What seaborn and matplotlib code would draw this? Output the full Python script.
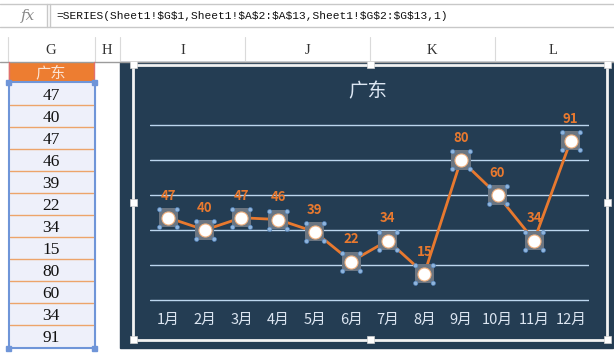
import matplotlib
matplotlib.use('Agg')
import matplotlib.pyplot as plt
import seaborn as sns
import pandas as pd
import numpy as np
from matplotlib.patches import Rectangle
from matplotlib.path import Path

# data
months = ['1月', '2月', '3月', '4月', '5月', '6月', '7月', '8月', '9月', '10月', '11月', '12月']
values = [47, 40, 47, 46, 39, 22, 34, 15, 80, 60, 34, 91]
series_name = '广东'
formula = '=SERIES(Sheet1!$G$1,Sheet1!$A$2:$A$13,Sheet1!$G$2:$G$13,1)'
col_letters = ['G', 'H', 'I', 'J', 'K', 'L']

df = pd.DataFrame({'pos': np.arange(len(months)), 'month': months, 'value': values})

sns.set_style('white')
plt.rcParams['font.family'] = ['Noto Sans CJK SC', 'DejaVu Sans']

ORANGE = '#e8792f'
DARK = '#243d53'
LIGHT = '#dce6f2'
GRID = '#bcd6ee'

fig = plt.figure(figsize=(6.14, 3.55), dpi=100)

# sheet layer in pixel coordinates
sh = fig.add_axes([0, 0, 1, 1])
sh.set_xlim(0, 614)
sh.set_ylim(355, 0)
sh.axis('off')
sh.set_zorder(0)

# formula bar
sh.plot([0, 614], [4, 4], color='#c8c8c8', lw=1)
sh.plot([0, 614], [27, 27], color='#c8c8c8', lw=1)
sh.plot([47, 47], [4, 27], color='#c8c8c8', lw=1)
sh.plot([50, 50], [4, 27], color='#c8c8c8', lw=1)
sh.text(28, 16, 'fx', family='DejaVu Serif', style='italic', fontsize=11,
        color='#8a8a8a', ha='center', va='center')
sh.text(56, 16, formula, family='Liberation Mono', fontsize=8.1, parse_math=False,
        color='#111111', ha='left', va='center')

# column header row
sh.add_patch(Rectangle((0, 37), 614, 25, color='#ffffff', zorder=0))
for x in [8, 95, 120, 245, 370, 495]:
    sh.plot([x, x], [37, 62], color='#dadada', lw=0.8)
sh.plot([0, 614], [62, 62], color='#9c9c9c', lw=1)
for letter, cx in zip(col_letters, [51, 107, 183, 308, 432, 553]):
    sh.text(cx, 50, letter, family='Liberation Serif', fontsize=10.5,
            color='#333333', ha='center', va='center')

# column G cells
sh.add_patch(Rectangle((9, 63), 84, 19, color='#ed7d31', zorder=1))
sh.text(51, 72.5, series_name, fontsize=11, color='#fbe3d3',
        ha='center', va='center')
sh.add_patch(Rectangle((9, 82), 86, 266, color='#eef0fa', zorder=1))
for i, v in enumerate(values):
    top = 83 + 22 * i
    sh.text(51, top + 12.5, str(v), family='Liberation Serif', fontsize=12.5,
            color='#111111', ha='center', va='center', zorder=3)
    if i < len(values) - 1:
        sh.plot([10, 93], [top + 22, top + 22], color='#eda46a', lw=1, zorder=2)
sh.add_patch(Rectangle((8.5, 82), 86, 266, fill=False, ec='#6f95d8', lw=1.5, zorder=3))
for px, py in [(8.5, 82), (94.5, 82), (8.5, 348), (94.5, 348)]:
    sh.add_patch(Rectangle((px - 2.5, py - 2.5), 5, 5, color='#6f95d8', zorder=4))
sh.plot([8.5, 8.5], [62, 82], color='#e07070', lw=1, zorder=3)
sh.plot([93.5, 93.5], [62, 82], color='#e07070', lw=1, zorder=3)

# chart background and selection frame
sh.add_patch(Rectangle((120, 62), 493, 286, color=DARK, zorder=1))
sh.add_patch(Rectangle((133, 64.5), 474, 275, fill=False, ec='#f2f2f2', lw=2, zorder=2))
for hx, hy in [(133, 64.5), (370, 64.5), (607, 64.5), (133, 202), (607, 202),
               (133, 339.5), (370, 339.5), (607, 339.5)]:
    sh.add_patch(Rectangle((hx - 3.5, hy - 3.5), 7, 7, fc='#ffffff', ec='#d0d0d0',
                           lw=0.5, zorder=3))
sh.text(368, 92, series_name, fontsize=14, color=LIGHT, ha='center', va='center', zorder=3)

# chart plot area: 1.75 px per unit, 0 at y=300, categories from x=150 to 589
W, H = 614, 355
pad = 1.0
ax = fig.add_axes([150 / W, (H - 300 - pad * 1.75) / H, 439 / W, (175 + 2 * pad * 1.75) / H])
ax.set_zorder(2)
ax.patch.set_alpha(0)
ax.set_xlim(-0.5, len(months) - 0.5)
ax.set_ylim(-pad, 100 + pad)
ax.set_yticks(np.arange(0, 101, 20))
ax.yaxis.grid(True, color=GRID, lw=1)
ax.set_axisbelow(True)
sns.despine(ax=ax, left=True, bottom=True)

sns.lineplot(data=df, x='pos', y='value', color=ORANGE, lw=2, ax=ax, zorder=3)
sns.scatterplot(data=df, x='pos', y='value', marker='s', s=190, color='#6b7581',
                edgecolor='none', linewidth=0, ax=ax, zorder=4)
sns.scatterplot(data=df, x='pos', y='value', marker='o', s=88, color='#ffffff',
                edgecolor='#f3b27f', linewidth=0.8, ax=ax, zorder=5)
corner = Path.make_compound_path(*[Path.circle((cx, cy), 0.25)
                                   for cx, cy in [(-1, -1), (1, -1), (1, 1), (-1, 1)]])
sns.scatterplot(data=df, x='pos', y='value', marker=corner, s=250, color='#8fb4dc',
                edgecolor='#4d7fb8', linewidth=0.4, ax=ax, zorder=6)

for i, v in enumerate(values):
    ax.annotate(str(v), (i, v), xytext=(0, 16), textcoords='offset points',
                ha='center', va='center', fontsize=9.5, fontweight='bold',
                color=ORANGE, zorder=7)

ax.set_xticks(df['pos'], months)
ax.tick_params(axis='x', length=0, pad=8, labelsize=10.5, labelcolor=LIGHT)
ax.tick_params(axis='y', length=0, labelleft=False)
ax.set_xlabel('')
ax.set_ylabel('')
leg = ax.get_legend()
if leg:
    leg.remove()

fig.savefig('out.png', dpi=100)
